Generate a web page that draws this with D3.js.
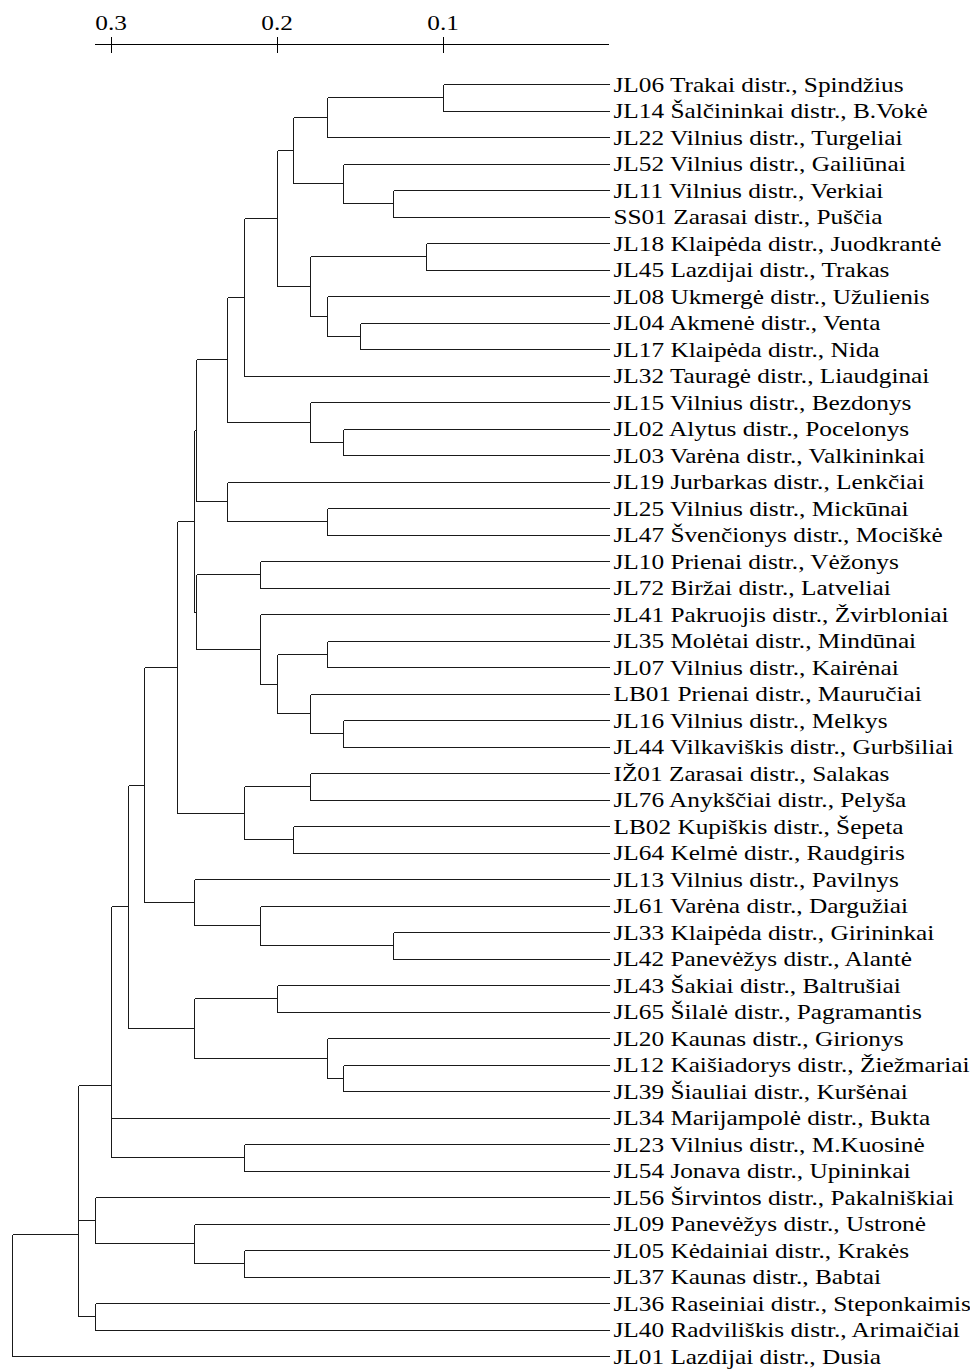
<!DOCTYPE html>
<html>
<head>
<meta charset="utf-8">
<script src="https://cdn.jsdelivr.net/npm/d3@7"></script>
<style>
  body { margin: 0; background: #fff; }
  svg { display: block; }
  .lbl, .tick text { font-family: "Liberation Serif", "Times New Roman", serif; fill: #000; }
</style>
</head>
<body>
<div id="chart"></div>
<script>
// leaf order as drawn (top to bottom)
var codes = ['JL06','JL14','JL22','JL52','JL11','SS01','JL18','JL45','JL08','JL04','JL17','JL32',
    'JL15','JL02','JL03','JL19','JL25','JL47','JL10','JL72','JL41','JL35','JL07','LB01','JL16','JL44',
    'IŽ01','JL76','LB02','JL64','JL13','JL61','JL33','JL42','JL43','JL65','JL20','JL12','JL39','JL34',
    'JL23','JL54','JL56','JL09','JL05','JL37','JL36','JL40','JL01'];

var places = ['Trakai distr., Spindžius','Šalčininkai distr., B.Vokė','Vilnius distr., Turgeliai',
    'Vilnius distr., Gailiūnai','Vilnius distr., Verkiai','Zarasai distr., Puščia',
    'Klaipėda distr., Juodkrantė','Lazdijai distr., Trakas','Ukmergė distr., Užulienis',
    'Akmenė distr., Venta','Klaipėda distr., Nida','Tauragė distr., Liaudginai',
    'Vilnius distr., Bezdonys','Alytus distr., Pocelonys','Varėna distr., Valkininkai',
    'Jurbarkas distr., Lenkčiai','Vilnius distr., Mickūnai','Švenčionys distr., Mociškė',
    'Prienai distr., Vėžonys','Biržai distr., Latveliai','Pakruojis distr., Žvirbloniai',
    'Molėtai distr., Mindūnai','Vilnius distr., Kairėnai','Prienai distr., Mauručiai',
    'Vilnius distr., Melkys','Vilkaviškis distr., Gurbšiliai','Zarasai distr., Salakas',
    'Anykščiai distr., Pelyša','Kupiškis distr., Šepeta','Kelmė distr., Raudgiris',
    'Vilnius distr., Pavilnys','Varėna distr., Dargužiai','Klaipėda distr., Girininkai',
    'Panevėžys distr., Alantė','Šakiai distr., Baltrušiai','Šilalė distr., Pagramantis',
    'Kaunas distr., Girionys','Kaišiadorys distr., Žiežmariai','Šiauliai distr., Kuršėnai',
    'Marijampolė distr., Bukta','Vilnius distr., M.Kuosinė','Jonava distr., Upininkai',
    'Širvintos distr., Pakalniškiai','Panevėžys distr., Ustronė','Kėdainiai distr., Krakės',
    'Kaunas distr., Babtai','Raseiniai distr., Steponkaimis','Radviliškis distr., Arimaičiai',
    'Lazdijai distr., Dusia'];

// merge steps, hclust style: negative = leaf (1-based), positive = earlier step (1-based)
var mergeA = [-1, 1, -5, -4, 2, -7, -10, -9, 6, 5, 10, -14, -13, 11, -17, -16, 14, -19, -22, -25,
    -24, 19, -21, 18, 17, -27, -29, 26, 25, -33, -32, -31, 29, -35, -38, -37, 34, 33, 38, -41,
    39, -45, -44, -43, 41, -47, 45, 47];
var mergeB = [-2, -3, -6, 3, 4, -8, -11, 7, 8, 9, -12, -15, 12, 13, -18, 15, 16, -20, -23, -26,
    20, 21, 22, 23, 24, -28, -30, 27, 28, -34, 30, 31, 32, -36, -39, 35, 36, 37, -40, -42,
    40, -46, 42, 43, 44, -48, 46, -49];
var heights = [0.100, 0.170, 0.130, 0.160, 0.190, 0.110, 0.150, 0.170, 0.180, 0.200, 0.220, 0.160,
    0.180, 0.230, 0.170, 0.230, 0.249, 0.210, 0.170, 0.160, 0.180, 0.200, 0.210, 0.249, 0.250,
    0.180, 0.190, 0.220, 0.260, 0.130, 0.210, 0.250, 0.280, 0.200, 0.160, 0.170, 0.250, 0.290,
    0.300, 0.220, 0.300, 0.220, 0.250, 0.310, 0.320, 0.310, 0.320, 0.360];

var tickVals = [0.3, 0.2, 0.1];

var width = 970, height = 1369,
    fontSize = 22,
    stretch = 1.15;   // the original type is set a little wide

var x = d3.scaleLinear().domain([0, 0.1]).range([608.5, 442.7]);
var y = d3.scalePoint().domain(d3.range(codes.length)).range([84.5, 1356.5]);

var svg = d3.select('#chart').append('svg')
    .attr('width', width)
    .attr('height', height);

// build tree nodes from merge table
function leafNode(i) {
    return {leaf: true, idx: i, h: 0, y: y(i)};
}
var steps = [];
function ref(v) {
    return v < 0 ? leafNode(-v - 1) : steps[v - 1];
}
heights.forEach(function(h, k) {
    var a = ref(mergeA[k]), b = ref(mergeB[k]);
    steps.push({leaf: false, h: h, children: [a, b], y: (a.y + b.y) / 2});
});
var root = d3.hierarchy(steps[steps.length - 1], function(d) { return d.children; });

// elbow links
var links = [];
root.each(function(n) {
    if (!n.children) return;
    var px = x(n.data.h);
    var ys = n.children.map(function(c) { return c.data.y; });
    links.push([[px, d3.min(ys)], [px, d3.max(ys)]]);
    n.children.forEach(function(c) {
        links.push([[px, c.data.y], [x(c.data.h), c.data.y]]);
    });
});

var line = d3.line();
svg.append('g')
    .attr('class', 'links')
    .selectAll('path')
    .data(links)
    .enter().append('path')
    .attr('d', function(d) {
        return line(d.map(function(p) { return [Math.round(p[0]) + 0.5, Math.round(p[1] - 0.5) + 0.5]; }));
    })
    .attr('fill', 'none')
    .attr('stroke', '#1a1a1a')
    .attr('stroke-width', 1)
    .attr('shape-rendering', 'crispEdges');

// leaf labels
svg.append('g')
    .selectAll('text')
    .data(codes)
    .enter().append('text')
    .attr('class', 'lbl')
    .attr('transform', function(d, i) {
        return 'translate(' + (x(0) + 5) + ',' + (y(i) + 7) + ') scale(' + stretch + ',1)';
    })
    .style('font-size', fontSize + 'px')
    .text(function(d, i) { return d + ' ' + places[i]; });

// distance axis on top
var axis = d3.axisTop(x.copy().domain([0, 0.31]).range([608.5, 94]))
    .tickValues(tickVals)
    .tickFormat(d3.format('.1f'))
    .tickSizeInner(0)
    .tickSizeOuter(0)
    .tickPadding(14);

var ax = svg.append('g')
    .attr('transform', 'translate(0,43.5)')
    .call(axis);
ax.select('.domain').attr('stroke', '#000').attr('shape-rendering', 'crispEdges');
ax.selectAll('.tick line')
    .attr('y1', -7).attr('y2', 9)
    .attr('stroke', '#000')
    .attr('shape-rendering', 'crispEdges');
ax.selectAll('.tick text')
    .attr('transform', 'scale(' + stretch + ',1)')
    .style('font-size', fontSize + 'px')
    .style('font-family', '"Liberation Serif", "Times New Roman", serif');
</script>
</body>
</html>
